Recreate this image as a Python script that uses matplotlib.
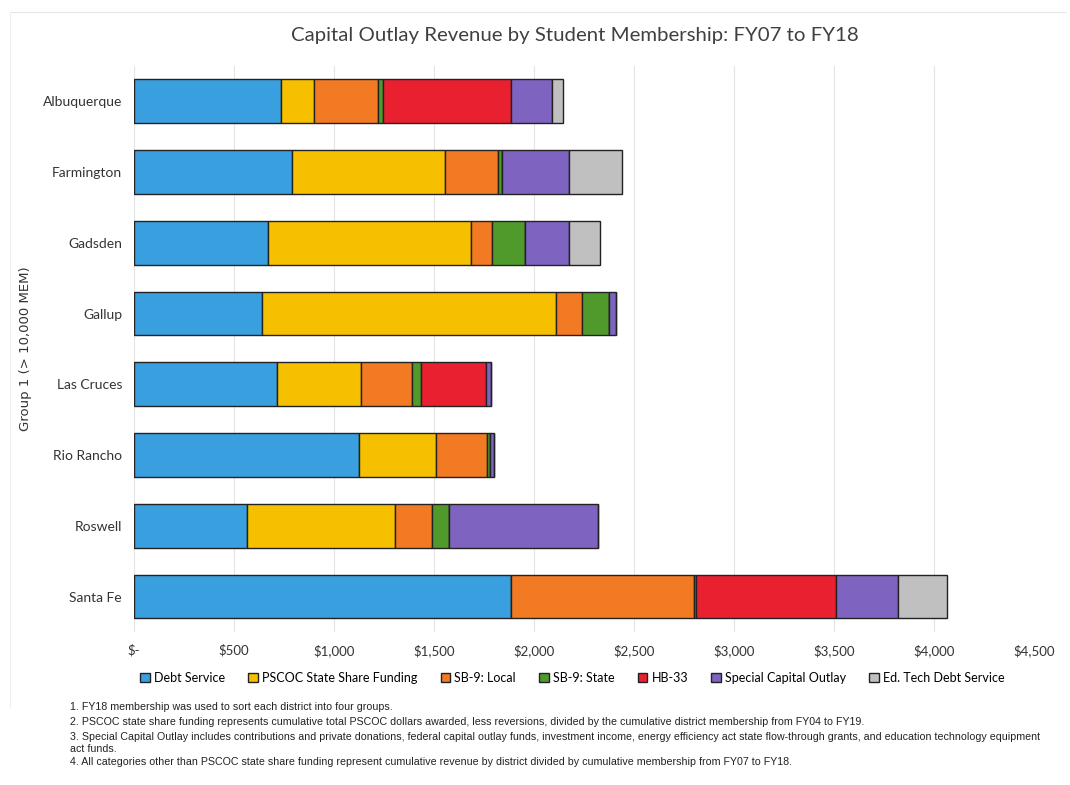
import matplotlib.pyplot as plt
import numpy as np

districts = ["Albuquerque", "Farmington", "Gadsden", "Gallup",
             "Las Cruces", "Rio Rancho", "Roswell", "Santa Fe"]

# dollars per student membership, FY07-FY18
debt_service = [734, 788, 669, 642, 713, 1123, 563, 1887]
pscoc_share = [164, 768, 1014, 1467, 424, 389, 744, 0]
sb9_local = [320, 263, 109, 133, 252, 253, 184, 912]
sb9_state = [28, 21, 164, 133, 48, 13, 86, 10]
hb33 = [638, 0, 0, 0, 321, 0, 0, 703]
special_outlay = [208, 334, 218, 35, 27, 24, 744, 307]
ed_tech = [55, 266, 157, 0, 0, 0, 0, 246]

series = [
    ("Debt Service", debt_service, "#3a9fde"),
    ("PSCOC State Share Funding", pscoc_share, "#f6c000"),
    ("SB-9: Local", sb9_local, "#f17a22"),
    ("SB-9: State", sb9_state, "#4f9a2b"),
    ("HB-33", hb33, "#e8202f"),
    ("Special Capital Outlay", special_outlay, "#7f63c1"),
    ("Ed. Tech Debt Service", ed_tech, "#c0c0c0"),
]

xticks = [0, 500, 1000, 1500, 2000, 2500, 3000, 3500, 4000, 4500]
xticklabels = ["$-", "$500", "$1,000", "$1,500", "$2,000", "$2,500",
               "$3,000", "$3,500", "$4,000", "$4,500"]

notes = [
    "1. FY18 membership was used to sort each district into four groups.",
    "2. PSCOC state share funding represents cumulative total PSCOC dollars awarded, less reversions, divided by the cumulative district membership from FY04 to FY19.",
    "3. Special Capital Outlay includes contributions and private donations, federal capital outlay funds, investment income, energy efficiency act state flow-through grants, and education technology equipment",
    "act funds.",
    "4. All categories other than PSCOC state share funding represent cumulative revenue by district divided by cumulative membership from FY07 to FY18.",
]

fig = plt.figure(figsize=(10.7, 7.85), dpi=100)
ax = fig.add_axes([0.1252, 0.195, 0.8411, 0.721])

y = np.arange(len(districts))
left = np.zeros(len(districts))
for name, vals, col in series:
    vals = np.array(vals, dtype=float)
    ax.barh(y, vals, left=left, height=0.62, color=col, edgecolor="#222222",
            linewidth=1.0, label=name)
    left += vals

ax.set_ylim(len(districts) - 0.5, -0.5)
ax.set_xlim(0, 4500)
ax.set_yticks(y)
ax.set_yticklabels(districts, fontsize=10, family="Lato", color="#333333")
ax.set_xticks(xticks)
ax.set_xticklabels(xticklabels, fontsize=9.5, family="Lato", color="#333333")
ax.tick_params(axis="x", length=0, pad=9)
ax.tick_params(axis="y", length=0, pad=8.6)
ax.xaxis.grid(True, color="#e4e4e4", linewidth=0.8)
ax.set_axisbelow(True)
for s in ax.spines.values():
    s.set_visible(False)

ax.set_ylabel("Group 1 (> 10,000 MEM)", fontsize=9.5, color="#333333")
ax.yaxis.set_label_coords(-0.113, 0.5)

fig.text(0.537, 0.955, "Capital Outlay Revenue by Student Membership: FY07 to FY18",
         ha="center", va="center", fontsize=14.7, family="Lato", color="#404040")

handles, labels = ax.get_legend_handles_labels()
leg = fig.legend(handles, labels, loc="center", bbox_to_anchor=(0.535, 0.136),
                 ncol=7, frameon=False, handlelength=0.75,
                 handleheight=0.75, handletextpad=0.35, columnspacing=1.85,
                 prop={"family": "Lato", "size": 9})

# faint chart frame
fig.add_artist(plt.Line2D([0.009, 0.995], [0.985, 0.985], color="#e6e6e6", lw=0.8))
fig.add_artist(plt.Line2D([0.009, 0.009], [0.985, 0.1], color="#eeeeee", lw=0.8))

ys = [0.099, 0.080, 0.061, 0.046, 0.029]
for t, yy in zip(notes, ys):
    fig.text(0.0654, yy, t, fontsize=7.7, family="Liberation Sans",
             color="#222222", va="center")

fig.savefig("out.png", dpi=100)
